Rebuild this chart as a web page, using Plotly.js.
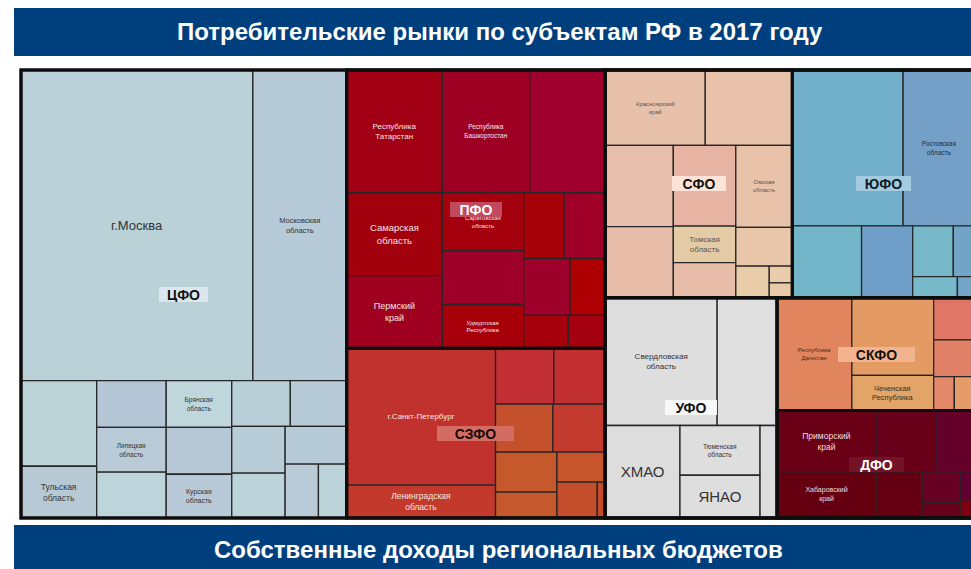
<!DOCTYPE html>
<html>
<head>
<meta charset="utf-8">
<script src="https://cdn.plot.ly/plotly-3.0.1.min.js"></script>
<style>
html,body{margin:0;padding:0;background:#ffffff;overflow:hidden}
#wrap{width:971px;height:569px;overflow:hidden;position:relative}
#chart{width:975px;height:569px}
</style>
</head>
<body>
<div id="wrap"><div id="chart"></div></div>
<script>
// ================= DATA =================
const chartTitle = 'Потребительские рынки по субъектам РФ в 2017 году';
const nextTitle = 'Собственные доходы региональных бюджетов';

const districtNames = ['ЦФО', 'ПФО', 'СЗФО', 'СФО', 'ЮФО', 'УФО', 'СКФО', 'ДФО'];
// grouping of districts (nested = alternating columns / rows)
const districtGroups = ['ЦФО', ['ПФО', 'СЗФО'], [['СФО', 'ЮФО'], ['УФО', ['СКФО', 'ДФО']]]];

// values: consumer market, bn RUB
const cfoRegions = ['г.Москва', 'Московская<br>область', '', 'Тульская<br>область', '', 'Липецкая<br>область', '', 'Брянская<br>область', '', 'Курская<br>область', '', '', '', '', '', '', ''];
const cfoValues = [5023, 2031, 452, 273, 227, 217, 222, 214, 214, 200, 187, 180, 174, 167, 162, 125, 106];
const cfoGroups = [[0, 1], [[2, 3], [4, 5, 6], [7, 8, 9], [[10, 11], [[12, 13], [14, [15, 16]]]]]];

const pfoRegions = ['Республика<br>Татарстан', 'Республика<br>Башкортостан', '', 'Самарская<br>область', 'Пермский<br>край', 'Саратовская<br>область', '', 'Удмуртская<br>Республика', '', '', '', '', '', ''];
const pfoValues = [818, 749, 646, 552, 485, 329, 306, 249, 185, 189, 184, 140, 102, 85];
const pfoGroups = [[0, 1, 2], [[3, 4], [5, 6, 7], [[8, 9], [10, 11], [12, 13]]]];

const szfoRegions = ['г.Санкт-Петербург', 'Ленинградская<br>область', '', '', '', '', '', '', '', '', ''];
const szfoValues = [1419, 342, 227, 200, 192, 175, 171, 111, 101, 101, 20];
const szfoGroups = [[0, 1], [[2, 3], [4, 5], [[6, 7], [8, [9, 10]]]]];

const sfoRegions = ['Красноярский<br>край', '', '', '', 'Омская<br>область', '', 'Томская<br>область', '', '', '', '', ''];
const sfoValues = [525, 457, 386, 352, 323, 338, 159, 154, 153, 74, 27, 24];
const sfoGroups = [[0, 1], [[2, 5], [3, 6, 7], [4, 8, [9, [10, 11]]]]];

const yufoRegions = ['', 'Ростовская<br>область', '', '', '', '', '', ''];
const yufoValues = [1204, 781, 348, 257, 144, 77, 66, 26];
const yufoGroups = [[0, 1], [2, 3, [[4, 5], [6, 7]]]];

const ufoRegions = ['Свердловская<br>область', '', 'ХМАО', 'Тюменская<br>область', 'ЯНАО', ''];
const ufoValues = [996, 533, 482, 277, 238, 111];
const ufoGroups = [[0, 1], [2, [3, 4], 5]];

const skfoRegions = ['Республика<br>Дагестан', '', 'Чеченская<br>Республика', '', '', '', ''];
const skfoValues = [588, 442, 201, 121, 106, 49, 49];
const skfoGroups = [0, [1, 2], [3, 4, [5, 6]]];

const dfoRegions = ['Приморский<br>край', 'Хабаровский<br>край', '', '', '', '', '', '', ''];
const dfoValues = [423, 319, 256, 167, 148, 82, 40, 29, 19];
const dfoGroups = [[0, 1], [[2, 3], [4, [5, 6], [7, 8]]]];

// ================= STYLES =================
const cfoColors = ['#bad1d8', '#b7cad7', '#bcd3d8', '#b8c9d6', '#b4c6d5', '#b8cbd7', '#bdd5da', '#bfd6dc', '#b6c8d6', '#b8cad7', '#bad0d8', '#b7cad7', '#b9cdd8', '#bcd3d9', '#b7cad7', '#b8cbd7', '#bcd3da'];
const pfoColors = ['#a20014', '#9e0024', '#a0002e', '#a3000e', '#a00020', '#a5000d', '#9f002a', '#a8000a', '#a60008', '#a00028', '#9e002c', '#ae0004', '#a6000c', '#a5000f'];
const szfoColors = ['#c1312d', '#c33a2d', '#c12e34', '#c22f31', '#c4512c', '#c33b2e', '#c6592b', '#c5582c', '#c6552c', '#c44d2b', '#c34b2b'];
const sfoColors = ['#e8c1ab', '#e8c2aa', '#e8bfac', '#e7b3a3', '#e8c3a9', '#e8beab', '#e5cba5', '#e7bca8', '#e9c5aa', '#e8cca8', '#e9cdaa', '#e8c9a8'];
const yufoColors = ['#72afca', '#74a0c8', '#73b6c9', '#6f9ec8', '#77b9c9', '#72a4c8', '#78b9c9', '#73a5c8'];
const ufoColors = ['#dedede', '#dfdfdf', '#dddddd', '#dedede', '#dedede', '#dddddd'];
const skfoColors = ['#e0855d', '#e39b63', '#e3a467', '#e07766', '#e08168', '#e3896a', '#e59c6a'];
const dfoColors = ['#690016', '#650010', '#690019', '#640029', '#640012', '#680024', '#66001c', '#600030', '#7c0010'];

const cfoFont = [13, 7.5, 8, 8.5, 8, 6.5, 8, 6.5, 8, 7, 8, 8, 8, 8, 8, 8, 8];
const pfoFont = [8, 6.5, 8, 9.5, 9, 6, 8, 6, 8, 8, 8, 8, 8, 8];
const szfoFont = [8, 8.5, 8, 8, 8, 8, 8, 8, 8, 8, 8];
const sfoFont = [6, 8, 8, 8, 6, 8, 8, 8, 8, 8, 8, 8];
const yufoFont = [8, 6.5, 8, 8, 8, 8, 8, 8];
const ufoFont = [8, 8, 15, 6.5, 15, 8];
const skfoFont = [6, 8, 7.5, 8, 8, 8, 8];
const dfoFont = [8.5, 7, 8, 8, 8, 8, 8, 8, 8];

const districtTextColor = {'ЦФО': '#333333', 'ПФО': '#f4e4e4', 'СЗФО': '#f6e6e2', 'СФО': '#555555', 'ЮФО': '#1d2d3d', 'УФО': '#333333', 'СКФО': '#4a2a1a', 'ДФО': '#f2dede'};
const districtFirstSplit = {'ЦФО': 'V', 'ПФО': 'V', 'СЗФО': 'H', 'СФО': 'V', 'ЮФО': 'V', 'УФО': 'V', 'СКФО': 'H', 'ДФО': 'H'};
const districtBoxFill = {'ЦФО': '#dbe7ec', 'ПФО': '#c24a5e', 'СЗФО': '#d36d64', 'СФО': '#fbe4d7', 'ЮФО': '#a3cbe0', 'УФО': '#f8f8f8', 'СКФО': '#f1b48e', 'ДФО': '#741226'};
const districtBoxW = {'ЦФО': 49, 'ПФО': 52, 'СЗФО': 77, 'СФО': 54, 'ЮФО': 55, 'УФО': 52, 'СКФО': 77, 'ДФО': 55};
const districtLabelColor = {'ЦФО': '#111111', 'ПФО': '#ffffff', 'СЗФО': '#1a0805', 'СФО': '#111111', 'ЮФО': '#0e1a26', 'УФО': '#111111', 'СКФО': '#111111', 'ДФО': '#ffffff'};

const districtData = {
  'ЦФО': {regions: cfoRegions, values: cfoValues, groups: cfoGroups, colors: cfoColors, font: cfoFont},
  'ПФО': {regions: pfoRegions, values: pfoValues, groups: pfoGroups, colors: pfoColors, font: pfoFont},
  'СЗФО': {regions: szfoRegions, values: szfoValues, groups: szfoGroups, colors: szfoColors, font: szfoFont},
  'СФО': {regions: sfoRegions, values: sfoValues, groups: sfoGroups, colors: sfoColors, font: sfoFont},
  'ЮФО': {regions: yufoRegions, values: yufoValues, groups: yufoGroups, colors: yufoColors, font: yufoFont},
  'УФО': {regions: ufoRegions, values: ufoValues, groups: ufoGroups, colors: ufoColors, font: ufoFont},
  'СКФО': {regions: skfoRegions, values: skfoValues, groups: skfoGroups, colors: skfoColors, font: skfoFont},
  'ДФО': {regions: dfoRegions, values: dfoValues, groups: dfoGroups, colors: dfoColors, font: dfoFont}
};

const FONT = 'Liberation Sans, Arial, Helvetica, sans-serif';
const W = 975, H = 569;
const M = {l: 21, r: 0, t: 70, b: 51};
const PW = W - M.l - M.r, PH = H - M.t - M.b;
const px2x = px => (px - M.l) / PW;
const px2y = py => (H - M.b - py) / PH;
const dirOf = depth => (depth % 2 === 0 ? 'H' : 'V');

// ================= BUILD HIERARCHY =================
function makeStore() {
  return {ids: [], parents: [], values: [], text: [], colors: [], lw: [], lc: [], fs: [], fc: []};
}
function addNode(s, id, parent, value, text, color, lw, lc, fs, fc) {
  s.ids.push(id); s.parents.push(parent); s.values.push(value); s.text.push(text);
  s.colors.push(color); s.lw.push(lw); s.lc.push(lc); s.fs.push(fs); s.fc.push(fc);
}

// detailed trace
const T = makeStore();
let gid = 0;
addNode(T, 'root', '', 0, '', '#2a2a2a', 0, '#2a2a2a', 8, '#000');

function buildItems(items, parentId, name) {
  const d = districtData[name];
  items.forEach(it => {
    if (typeof it === 'number') {
      addNode(T, name + '-' + it, parentId, d.values[it], d.regions[it], d.colors[it],
        1.3, '#262626', d.font[it], districtTextColor[name]);
    } else {
      const g = 'grp' + (gid++);
      addNode(T, g, parentId, 0, '', d.colors[0], 0, d.colors[0], 8, '#000');
      buildItems(it, g, name);
    }
  });
}
function buildDistrict(name, parentId, depth) {
  const d = districtData[name];
  addNode(T, name, parentId, 0, '', d.colors[0], 0, d.colors[0], 8, '#000');
  let host = name;
  if (districtFirstSplit[name] !== dirOf(depth)) {
    host = name + '-wrap';
    addNode(T, host, name, 0, '', d.colors[0], 0, d.colors[0], 8, '#000');
  }
  buildItems(d.groups, host, name);
}
function buildTop(spec, parentId, depth, store, districtFn) {
  if (typeof spec === 'string') { districtFn(spec, parentId, depth); return; }
  const g = 'top' + (gid++);
  addNode(store, g, parentId, 0, '', store === T ? '#2a2a2a' : 'rgba(0,0,0,0)', store === T ? 0 : 3, '#0d0d0d', 8, '#000');
  spec.forEach(sp => buildTop(sp, g, depth + 1, store, districtFn));
}
districtGroups.forEach(sp => buildTop(sp, 'root', 1, T, buildDistrict));

// border overlay trace (district level)
const B = makeStore();
const districtTotal = {};
districtNames.forEach(n => { districtTotal[n] = districtData[n].values.reduce((a, b) => a + b, 0); });
addNode(B, 'root', '', 0, '', 'rgba(0,0,0,0)', 3, '#0d0d0d', 8, '#000');
districtGroups.forEach(sp => buildTop(sp, 'root', 1, B, (name, parentId) => {
  addNode(B, name, parentId, districtTotal[name], '', 'rgba(0,0,0,0)', 3, '#0d0d0d', 8, '#000');
}));

// ---- district label positions from the slice-dice partition of the overlay hierarchy ----
function partitionRects(store) {
  const kids = {}, val = {};
  store.ids.forEach((id, i) => { kids[id] = []; val[id] = store.values[i]; });
  store.ids.forEach((id, i) => { if (store.parents[i]) kids[store.parents[i]].push(id); });
  function total(id) { return val[id] + kids[id].reduce((a, k) => a + total(k), 0); }
  const rects = {};
  function place(id, x0, y0, x1, y1, depth) {
    rects[id] = [x0, y0, x1, y1];
    const t = total(id);
    let acc = 0;
    kids[id].forEach(k => {
      const f0 = acc / t; acc += total(k); const f1 = acc / t;
      if (depth % 2 === 0) place(k, x0 + (x1 - x0) * f0, y0, x0 + (x1 - x0) * f1, y1, depth + 1);
      else place(k, x0, y0 + (y1 - y0) * f0, x1, y0 + (y1 - y0) * f1, depth + 1);
    });
  }
  place('root', 0, 0, 1, 1, 0);
  return rects;
}
const rects = partitionRects(B);

const annotations = districtNames.map(n => {
  const r = rects[n];
  return {
    xref: 'paper', yref: 'paper', x: (r[0] + r[2]) / 2, y: 1 - (r[1] + r[3]) / 2,
    xanchor: 'center', yanchor: 'middle', showarrow: false,
    text: '<b>' + n + '</b>', font: {family: FONT, size: 14, color: districtLabelColor[n]},
    bgcolor: districtBoxFill[n], width: districtBoxW[n], height: 15, borderpad: 0, borderwidth: 0, align: 'center'
  };
});
annotations.push({
  xref: 'paper', yref: 'paper', x: px2x(500), y: px2y(32), xanchor: 'center', yanchor: 'middle', showarrow: false,
  text: '<b>' + chartTitle + '</b>', font: {family: FONT, size: 24, color: '#ffffff'}
});
annotations.push({
  xref: 'paper', yref: 'paper', x: px2x(499), y: px2y(549), xanchor: 'center', yanchor: 'middle', showarrow: false,
  text: '<b>' + nextTitle + '</b>', font: {family: FONT, size: 24, color: '#ffffff'}
});

const shapes = [
  {type: 'rect', xref: 'paper', yref: 'paper', x0: px2x(14), x1: px2x(990), y0: px2y(56), y1: px2y(8), fillcolor: '#003f7e', line: {width: 0}, layer: 'below'},
  {type: 'rect', xref: 'paper', yref: 'paper', x0: px2x(14), x1: px2x(990), y0: px2y(525), y1: px2y(580), fillcolor: '#003f7e', line: {width: 0}, layer: 'below'}
];

const common = {
  type: 'treemap', branchvalues: 'remainder', sort: false,
  tiling: {packing: 'slice-dice', pad: 0},
  pathbar: {visible: false}, hoverinfo: 'skip',
  domain: {x: [0, 1], y: [0, 1]}, leaf: {opacity: 1}
};

const traceCells = Object.assign({}, common, {
  ids: T.ids, labels: T.ids, parents: T.parents, values: T.values, text: T.text,
  textinfo: 'text', textposition: 'middle center',
  textfont: {family: FONT, size: T.fs, color: T.fc},
  marker: {colors: T.colors, line: {width: T.lw, color: T.lc}, pad: {t: 0, l: 0, r: 0, b: 0}, depthfade: false}
});
const traceBorders = Object.assign({}, common, {
  ids: B.ids, labels: B.ids, parents: B.parents, values: B.values,
  textinfo: 'none',
  marker: {colors: B.colors, line: {width: B.lw, color: B.lc}, pad: {t: 0, l: 0, r: 0, b: 0}, depthfade: false}
});

const layout = {
  width: W, height: H, autosize: false,
  margin: M, paper_bgcolor: '#ffffff', plot_bgcolor: '#ffffff',
  showlegend: false, shapes: shapes, annotations: annotations,
  font: {family: FONT}
};

Plotly.newPlot('chart', [traceCells, traceBorders], layout, {staticPlot: true, displayModeBar: false});
</script>
</body>
</html>
